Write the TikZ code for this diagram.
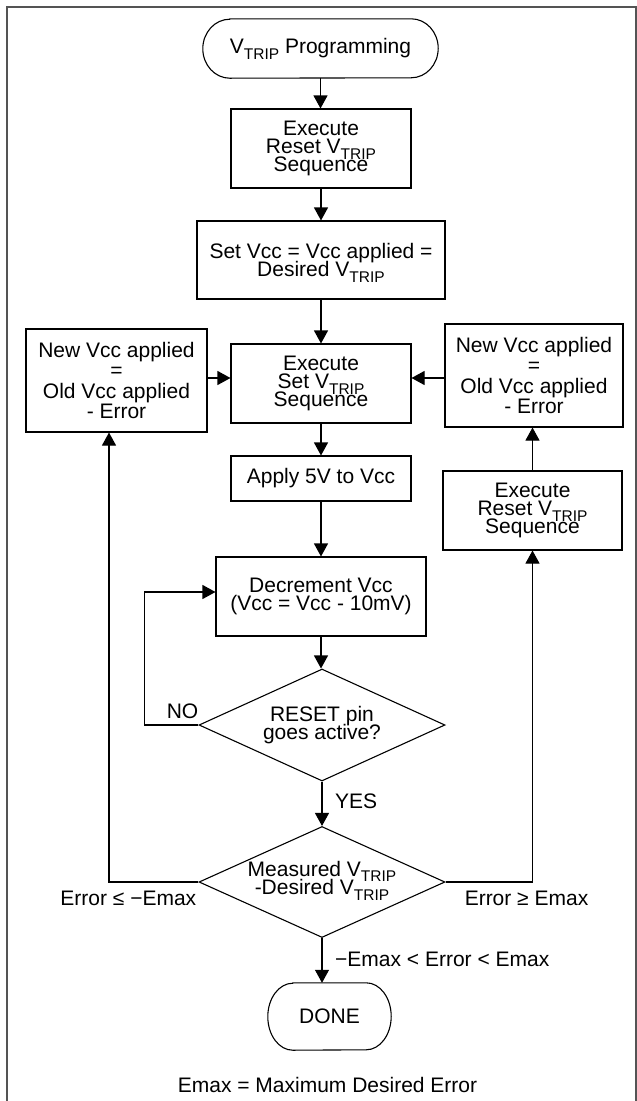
\documentclass[tikz,border=0pt]{standalone}
\usepackage{fontspec}
\setmainfont{Liberation Sans}
\usetikzlibrary{shapes.geometric,arrows.meta,calc}
\newcommand{\trp}{\smash{\raisebox{-5.5pt}{\fontsize{15.5}{15.5}\selectfont TRIP}}}
\newcommand{\nolsk}{\lineskiplimit -100pt\relax}
\newcommand{\fa}{\fontsize{21}{18.5}\selectfont\nolsk}
\newcommand{\fb}{\fontsize{21}{18}\selectfont\nolsk}
\newcommand{\fc}{\fontsize{21}{20.5}\selectfont\nolsk}
\begin{document}
\begin{tikzpicture}[x=1pt,y=-1pt,
  txt/.style={inner sep=0pt, align=center, font=\fa},
  tight/.style={txt, font=\fb},
  loose/.style={txt, font=\fc},
  pbox/.style={draw, rectangle, line width=1.1pt},
  dmd/.style={draw, diamond, line width=1.1pt, inner sep=0pt, minimum width=246pt, minimum height=112pt},
  arr/.style={line width=1.1pt, -{Triangle[length=13pt,width=14pt]}},
  ln/.style={line width=1.1pt}
]
\useasboundingbox (0,0) rectangle (637,1101);
\draw[line width=1.8pt, color=black!67] (7,1102) -- (7,7) -- (636,7) -- (636,1102);

% nodes
\node[txt, minimum width=235pt, minimum height=59pt] (start) at (320.5,48.5) {V\trp{} Programming};
\node[tight, pbox, minimum width=180pt, minimum height=79pt] (b1) at (321,148.5) {Execute\\Reset V\trp\\Sequence};
\node[txt, pbox, minimum width=248pt, minimum height=78pt] (b2) at (321,260) {Set Vcc = Vcc applied =\\Desired V\trp};
\node[tight, pbox, minimum width=180pt, minimum height=79pt] (set) at (321,383.5) {Execute\\Set V\trp\\Sequence};
\node[txt, pbox, minimum width=180pt, minimum height=45pt] (apply) at (321,478.5) {Apply 5V to Vcc};
\node[txt, pbox, minimum width=210pt, minimum height=79pt] (decr) at (321,596.5) {Decrement Vcc\\(Vcc = Vcc - 10mV)};
\node[dmd] (d1) at (322,725) {};
\node[txt] (d1t) at (d1) {RESET pin\\goes active?};
\node[dmd, minimum height=111pt] (d2) at (322,882) {};
\node[txt] (d2t) at ($(d2)+(0,-4)$) {Measured V\trp\\-Desired V\trp};
\node[txt, minimum width=123pt, minimum height=67pt] (done) at (329.5,1016.5) {DONE};
\node[loose, pbox, minimum width=181pt, minimum height=103pt] (lb) at (116.5,380.5) {New Vcc applied\\=\\Old Vcc applied\\- Error};
\node[loose, pbox, minimum width=178pt, minimum height=103pt] (nb) at (534,375.5) {New Vcc applied\\=\\Old Vcc applied\\- Error};
\node[tight, pbox, minimum width=179pt, minimum height=79pt] (rb) at (532.5,510.5) {Execute\\Reset V\trp\\Sequence};

% terminator outlines
\draw[ln] ([xshift=27pt]start.north west) -- ([xshift=-27pt]start.north east)
  arc[start angle=90,end angle=-90,x radius=27pt,y radius=29.5pt]
  -- ([xshift=27pt]start.south west)
  arc[start angle=270,end angle=90,x radius=27pt,y radius=29.5pt] -- cycle;
\draw[ln] ([xshift=25pt]done.north west) -- ([xshift=-25pt]done.north east)
  arc[start angle=90,end angle=-90,x radius=25pt,y radius=33.5pt]
  -- ([xshift=25pt]done.south west)
  arc[start angle=270,end angle=90,x radius=25pt,y radius=33.5pt] -- cycle;

% connectors
\draw[arr] (start.south) -- (start.south |- b1.north);
\draw[arr] (b1.south) -- (b1.south |- b2.north);
\draw[arr] (b2.south) -- (b2.south |- set.north);
\draw[arr] (set.south) -- (set.south |- apply.north);
\draw[arr] (apply.south) -- (apply.south |- decr.north);
\draw[arr] (decr.south) -- (decr.south |- d1.north);
\draw[arr] (d1.south) -- (d1.south |- d2.north);
\draw[arr] (d2.south) -- (d2.south |- done.north);
\draw[arr] (d1.west) -- ++(-54,0) |- ([yshift=4.5pt]decr.west);
\draw[arr] (d2.west) -| ([xshift=-7.5pt]lb.south);
\draw[arr] ([yshift=2.5pt]lb.east) -- ([yshift=2.5pt]lb.east -| set.west);
\draw[arr] ([yshift=-2.5pt]nb.west) -- ([yshift=-2.5pt]nb.west -| set.east);
\draw[arr] (d2.east) -| (rb.south);
\draw[arr] (rb.north) -- (rb.north |- nb.south);

% labels
\node[txt, anchor=base east] (nolbl) at ($(d1.west)+(0,-7)$) {NO};
\node[txt, anchor=base west] (yeslbl) at ($(d1.south)+(13,27)$) {YES};
\node[txt, anchor=base east] (elo) at ($(d2.west)+(-2,23)$) {Error ≤ −Emax};
\node[txt, anchor=base west] (ehi) at ($(d2.east)+(19,23)$) {Error ≥ Emax};
\node[txt, anchor=base west] (emid) at ($(d2.south)+(13,28)$) {−Emax < Error < Emax};
\node[txt, anchor=base] (foot) at (327.5,1092) {Emax = Maximum Desired Error};
\end{tikzpicture}
\end{document}
